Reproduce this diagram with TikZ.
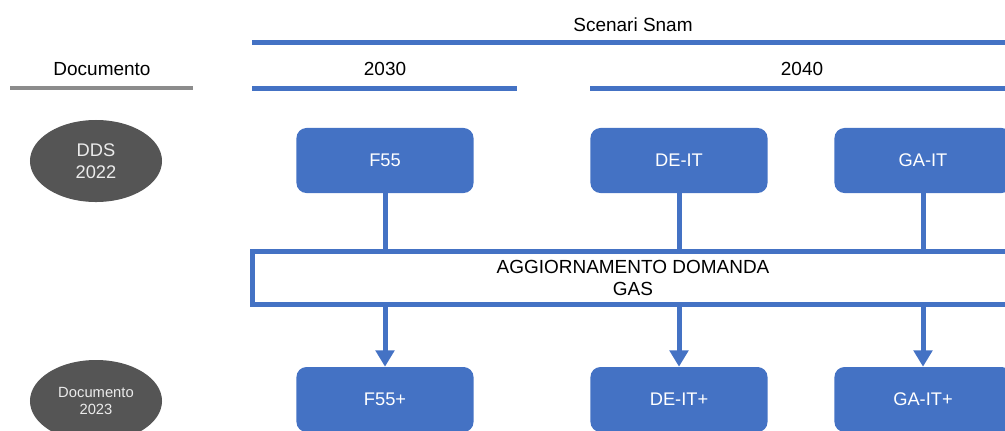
\documentclass[tikz,border=0pt]{standalone}
\usepackage{fontspec}
\setmainfont{Liberation Sans}
\usetikzlibrary{arrows.meta, positioning, shapes.geometric}
\definecolor{snamblue}{HTML}{4472C4}
\definecolor{docgray}{HTML}{555555}
\definecolor{rulegray}{HTML}{8C8C8C}

\begin{document}
\begin{tikzpicture}[x=0.025cm, y=-0.025cm,
    scen/.style={rectangle, rounded corners=0.25cm, fill=snamblue, text=white,
      minimum width=4.425cm, minimum height=1.625cm, font=\fontsize{13}{15}\selectfont},
    doc/.style={ellipse, fill=docgray, text=white!92!black, minimum width=3.3cm,
      minimum height=2.05cm, align=center, inner sep=0pt},
    head/.style={font=\fontsize{13.5}{15.6}\selectfont},
    bar/.style={line width=0.125cm, snamblue},
    flow/.style={bar, -{Triangle[width=0.46cm, length=0.41cm]}}]
          \useasboundingbox (0,0) rectangle (1005,430);
          \clip (0,0) rectangle (1005,430);

          % header
          \node[head] (snam) at (633,25) {Scenari Snam};
          \node[head] (doc) at (102,69) {Documento};
          \node[head] (y30) at (385,69) {2030};
          \node[head] (y40) at (802,69) {2040};
          \draw[bar] (252,42) -- (1014,42);
          \draw[bar] (252,88) -- (517,88);
          \draw[bar] (590,88) -- (1014,88);
          \draw[line width=0.1cm, rulegray] (10,88) -- (193,88);

          % documents
          \node[doc, font=\fontsize{13}{15.6}\selectfont] (dds) at (96,161) {DDS\\2022};
          \node[doc, font=\fontsize{10.5}{12}\selectfont] (doc23) at (96,401) {Documento\\2023};

          % scenarios
          \node[scen] (f55) at (385,160.5) {F55};
          \node[scen] (deit) at (679,160.5) {DE-IT};
          \node[scen] (gait) at (923,160.5) {GA-IT};

          \node[draw=snamblue, line width=0.125cm, minimum width=19cm, minimum height=1.333cm,
            align=center, head] (upd) at (633,278.3) {AGGIORNAMENTO DOMANDA\\GAS};

          \node[scen] (f55p) at (385,399.5) {F55+};
          \node[scen] (deitp) at (679,399.5) {DE-IT+};
          \node[scen] (gaitp) at (923,399.5) {GA-IT+};

          \draw[bar] (f55) -- (f55 |- upd.north);
          \draw[bar] (deit) -- (deit |- upd.north);
          \draw[bar] (gait) -- (gait |- upd.north);
          \draw[flow] (f55 |- upd.south) -- (f55p);
          \draw[flow] (deit |- upd.south) -- (deitp);
          \draw[flow] (gait |- upd.south) -- (gaitp);
        \end{tikzpicture}
\end{document}
